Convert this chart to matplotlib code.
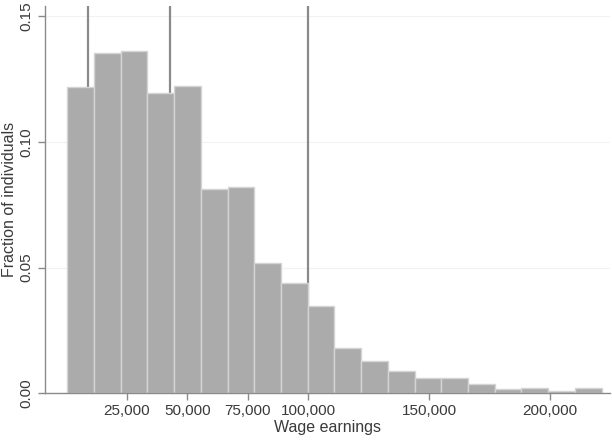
#!/usr/bin/env python3
"""Histogram of wage earnings with reference lines (Stata-like look)."""

import matplotlib
matplotlib.use("Agg")
import matplotlib.pyplot as plt
import numpy as np

# histogram: 20 equal-width bins
bin_start = 400
bin_width = 11050
fractions = [0.1216, 0.1352, 0.1363, 0.1193, 0.1222, 0.0811, 0.0821, 0.0517,
             0.0438, 0.0347, 0.0179, 0.0130, 0.0090, 0.0062, 0.0060, 0.0037,
             0.0017, 0.0020, 0.0009, 0.0020]

# reference lines (wage earnings)
ref_lines = [9100, 42800, 100000]

x_ticks = [25000, 50000, 75000, 100000, 150000, 200000]
y_ticks = [0.00, 0.05, 0.10, 0.15]

plt.rcParams["font.family"] = ["Liberation Sans", "DejaVu Sans"]

fig = plt.figure(figsize=(6.12, 4.40), dpi=100)
ax = fig.add_axes([0.073, 0.106, 0.9237, 0.8804])

lefts = bin_start + bin_width * np.arange(len(fractions))
ax.bar(lefts, fractions, width=bin_width, align="edge",
       color="#ababab", edgecolor="#d4d4d4", linewidth=1.0, zorder=2)

# lines sit behind the bars
for x in ref_lines:
    ax.axvline(x, color="#8a8a8a", lw=1.6, zorder=1)

ax.set_xlim(-8980, 224870)
ax.set_ylim(0, 0.154)

ax.set_xticks(x_ticks)
ax.set_xticklabels([f"{v:,}" for v in x_ticks], fontsize=11)
ax.set_yticks(y_ticks)
ax.set_yticklabels([f"{v:.2f}" for v in y_ticks], fontsize=11,
                   rotation=90, va="center")

ax.grid(axis="y", color="#f2f2f2", lw=0.8, zorder=0)
ax.set_axisbelow(True)

for side in ("top", "right"):
    ax.spines[side].set_visible(False)
for side in ("left", "bottom"):
    ax.spines[side].set_color("#8a8a8a")
    ax.spines[side].set_linewidth(1.0)
ax.tick_params(colors="#8a8a8a", labelcolor="#3a3a3a", length=5, width=1.0, pad=3)

ax.set_xlabel("Wage earnings", fontsize=11.5, color="#3a3a3a", labelpad=1)
ax.set_ylabel("Fraction of individuals", fontsize=11.5, color="#3a3a3a", labelpad=2)

fig.savefig("out.png", dpi=100)
